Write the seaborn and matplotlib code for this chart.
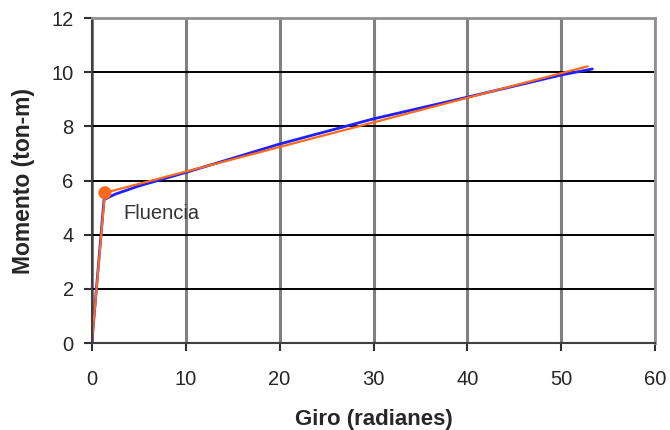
import matplotlib
matplotlib.use("Agg")
import matplotlib.pyplot as plt
import seaborn as sns
import pandas as pd

# curva momento-giro (azul) y bilineal (naranja)
giro_curva = [0, 1.3, 2.5, 5, 10, 20, 30, 40, 50, 53.3]
momento_curva = [0, 5.3, 5.5, 5.8, 6.3, 7.35, 8.28, 9.08, 9.9, 10.12]
giro_bilineal = [0, 1.4, 52.8]
momento_bilineal = [0, 5.55, 10.22]
fluencia_x = [1.4]
fluencia_y = [5.55]

sns.set_style("white")
plt.rcParams['font.family'] = ['Liberation Sans', 'DejaVu Sans']

fig, ax = plt.subplots(figsize=(6.7, 4.3), dpi=100)
fig.subplots_adjust(left=0.137, right=0.978, top=0.958, bottom=0.202)

df_c = pd.DataFrame({'giro': giro_curva, 'momento': momento_curva})
df_b = pd.DataFrame({'giro': giro_bilineal, 'momento': momento_bilineal})
sns.lineplot(data=df_c, x='giro', y='momento', ax=ax, color='#1f1fff', lw=2.0, sort=False)
sns.lineplot(data=df_b, x='giro', y='momento', ax=ax, color='#ff6a1a', lw=1.6, sort=False)
sns.scatterplot(x=fluencia_x, y=fluencia_y, ax=ax, color='#ff6a1a', s=90, edgecolor='none', zorder=5)
ax.text(3.4, 4.6, 'Fluencia', fontsize=14.5, color='#333333')

ax.set_xlim(0, 60)
ax.set_ylim(0, 12)
ax.set_xticks(range(0, 61, 10))
ax.set_yticks(range(0, 13, 2))
ax.xaxis.grid(True, color='#808080', lw=2.2)
ax.yaxis.grid(True, color='black', lw=1.4)
ax.set_axisbelow(True)
for s in ['top', 'right']:
    ax.spines[s].set_color('#909090')
    ax.spines[s].set_linewidth(2)
for s in ['left', 'bottom']:
    ax.spines[s].set_color('#404040')
    ax.spines[s].set_linewidth(1.5)
ax.tick_params(axis='both', direction='out', length=6, width=1.5, color='#303030',
               labelsize=14.5, bottom=True, left=True)
ax.tick_params(axis='x', pad=13)
ax.tick_params(axis='y', pad=7)
ax.set_xlabel('Giro (radianes)', fontsize=16, fontweight='bold', labelpad=15)
ax.set_ylabel('Momento (ton-m)', fontsize=16.5, fontweight='bold', labelpad=12)

fig.savefig('out.png', dpi=100)
